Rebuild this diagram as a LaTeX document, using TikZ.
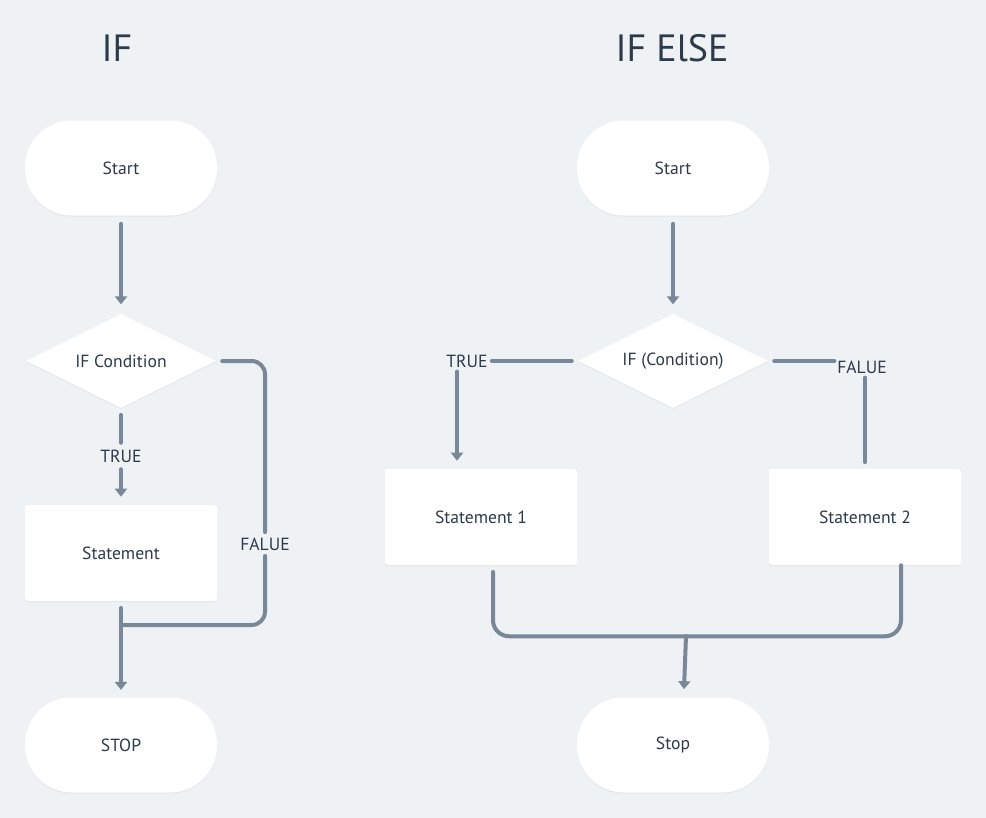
\documentclass[tikz,border=0pt]{standalone}
\usepackage{fontspec}
\setmainfont{PT Sans}
\usetikzlibrary{arrows.meta,shapes.geometric,shadows}
\definecolor{bg}{HTML}{EFF2F5}
\definecolor{ln}{HTML}{798898}
\definecolor{tx}{HTML}{2D3A4A}
\tikzset{
  x=0.75pt, y=-0.75pt,
  shad/.style={drop shadow={shadow xshift=0pt, shadow yshift=-0.8pt, opacity=0.05, fill=black}},
  term/.style={shape=rectangle, fill=white, rounded corners=35pt, minimum width=144pt, minimum height=71.25pt, text=tx, font=\fontsize{13.2}{15}\selectfont, shad},
  proc/.style={shape=rectangle, fill=white, rounded corners=2pt, minimum width=144pt, minimum height=72pt, text=tx, font=\fontsize{13.2}{15}\selectfont, shad},
  dec/.style={shape=diamond, fill=white, aspect=2, inner sep=0pt, minimum width=142.5pt, minimum height=70.5pt, text=tx, font=\fontsize{13.2}{15}\selectfont, shad},
  lbl/.style={text=tx, font=\fontsize{13.2}{15}\selectfont, inner sep=2pt},
  ttl/.style={text=tx, font=\fontsize{28.5}{32}\selectfont},
  conn/.style={draw=ln, line width=3pt, line cap=round},
  arr/.style={conn, -{Triangle[width=9pt,length=6pt]}},
}
\begin{document}
\begin{tikzpicture}
\path[fill=bg] (0,0) rectangle (986,818);
% titles
\node[ttl] (title1) at (117,48) {IF};
\node[ttl] (title2) at (672,48) {IF ElSE};
% left flow
\node[term] (start1) at (121,168) {Start};
\node[dec] (cond1) at (121,361) {IF Condition};
\node[lbl] (t1) at (121,456) {TRUE};
\node[proc] (stmt1) at (121,553) {Statement};
\node[lbl] (f1) at (265,544) {FALUE};
\node[term] (stop1) at (121,745) {STOP};
\coordinate (j1) at (121,625);
\draw[arr] ([yshift=-6pt]start1.south) -- ([yshift=7pt]cond1.north);
\draw[conn] ([yshift=-5pt]cond1.south) -- ([yshift=3pt]t1.north);
\draw[arr] ([yshift=-3pt]t1.south) -- ([yshift=6pt]stmt1.north);
\draw[conn, rounded corners=10pt] ([xshift=4.5pt]cond1.east) -| ([yshift=2pt]f1.north);
\draw[conn, rounded corners=10pt] ([yshift=-2pt]f1.south) |- (j1);
\draw[arr] ([yshift=-5pt]stmt1.south) -- ([yshift=5.5pt]stop1.north);
% right flow
\node[term] (start2) at (673,168) {Start};
\node[dec] (cond2) at (673,361) {IF (Condition)};
\node[lbl] (t2) at (467,361) {TRUE};
\node[lbl] (f2) at (862,367) {FALUE};
\node[proc] (s1) at (481,517) {Statement 1};
\node[proc] (s2) at (865,517) {Statement 2};
\node[term] (stop2) at (673,745) {Stop};
\coordinate (j2) at (686,636);
\draw[arr] ([yshift=-6pt]start2.south) -- ([yshift=7pt]cond2.north);
\draw[conn] ([xshift=-4.5pt]cond2.west) -- ([xshift=1pt]t2.east);
\draw[arr] ([xshift=-7.5pt,yshift=-1pt]t2.south) -- ([xshift=-18pt,yshift=6pt]s1.north);
\draw[conn] ([xshift=4.5pt]cond2.east) -- (f2.west |- cond2.east);
\draw[conn] ([xshift=2.25pt,yshift=-1pt]f2.south) -- ([xshift=0pt,yshift=5pt]s2.north);
\draw[conn, rounded corners=12pt] ([xshift=9pt,yshift=-5pt]s1.south) |- ([xshift=27pt,yshift=-53.25pt]s2.south) -- ([xshift=27pt]s2.south);
\draw[arr] (j2) -- ([xshift=8.25pt,yshift=6pt]stop2.north);
\end{tikzpicture}
\end{document}
